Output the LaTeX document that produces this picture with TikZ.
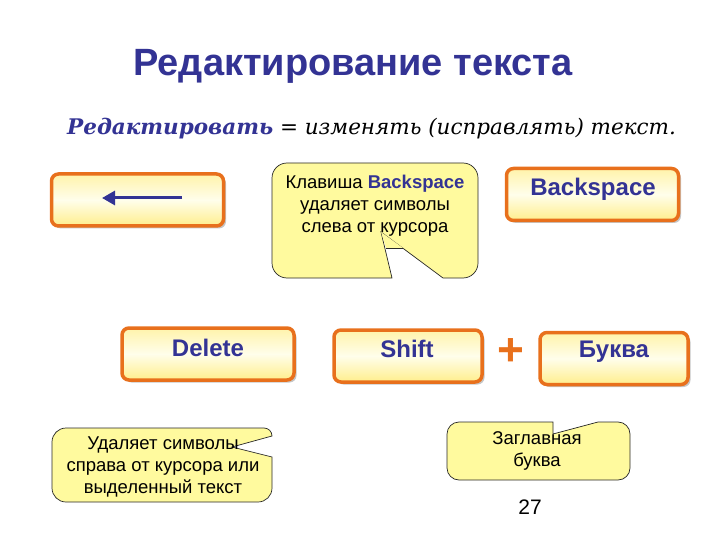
\documentclass[tikz,border=0pt]{standalone}
\usepackage{fontspec}
\setmainfont{Liberation Sans}
\newfontfamily\subfont{DejaVu Serif}
\usetikzlibrary{arrows.meta,shadows}
\definecolor{titleblue}{RGB}{51,51,148}
\definecolor{keyorange}{RGB}{232,112,28}
\definecolor{keytop}{RGB}{255,243,170}
\definecolor{keymid}{RGB}{255,254,235}
\definecolor{keybottom}{RGB}{255,238,140}
\definecolor{notefill}{RGB}{255,250,158}
\definecolor{noteline}{RGB}{40,40,40}

\begin{document}
\begin{tikzpicture}[
    x=1pt, y=-1pt,
    keybox/.style={
        rectangle,
        rounded corners=7pt,
        draw=keyorange,
        line width=3.5pt,
        top color=keytop,
        bottom color=keybottom,
        middle color=keymid,
        drop shadow={shadow xshift=2.5pt, shadow yshift=-2.5pt, opacity=0.45},
        minimum width=172pt,
        minimum height=52pt
    },
    keytext/.style={font=\fontsize{24}{28}\selectfont\bfseries, text=titleblue, inner sep=0pt},
    note/.style={fill=notefill, draw=noteline, line width=0.7pt},
    notetext/.style={font=\fontsize{18.5}{22}\selectfont, align=center, inner sep=0pt}
]
\useasboundingbox (0,0) rectangle (720,540);

% Title and definition
\node[font=\fontsize{38}{42}\selectfont\bfseries, text=titleblue] (title) at (353,66)
    {Редактирование текста};
\node[font=\subfont\fontsize{21.5}{24}\selectfont\itshape, anchor=base west, inner sep=0pt] (definition) at (67,135)
    {\textcolor{titleblue}{\bfseries Редактировать} = изменять (исправлять) текст.};

% Keys
\node[keybox] (arrowkey) at (137.5,200) {};
\node[keybox] (backkey) at (592.5,194.5) {};
\node[keybox] (delkey) at (208,354) {};
\node[keybox, minimum width=148pt] (shiftkey) at (408,356) {};
\node[keybox, minimum width=148pt] (letterkey) at (614,358.5) {};

\coordinate (arrowstart) at (182,198);
\coordinate (arrowtip) at (102,198);
\draw[titleblue, line width=3pt, -{Triangle[length=13pt, width=14pt]}] (arrowstart) -- (arrowtip);

\node[keytext] (backlabel) at (593,189) {Backspace};
\node[keytext] (dellabel) at (208,348) {Delete};
\node[keytext] (shiftlabel) at (407,349) {Shift};
\node[keytext] (letterlabel) at (614,352) {Буква};
\node[font=\fontsize{46}{46}\selectfont\bfseries, text=keyorange, inner sep=0pt] (plus) at (511,352) {+};

% Callout: Backspace
\path[note] (381,232) -- (392,278) [rounded corners=15pt] -- (272,278) -- (272,163)
    -- (478,163) -- (478,278) [sharp corners] -- (443,278) -- cycle;
\fill[notefill] (381,232) -- (386,248) -- (403,248) -- cycle;
\draw[noteline, line width=0.7pt] (386,248) -- (403,248);
\node[notetext] (backnote) at (375,206)
    {Клавиша \textbf{\textcolor{titleblue}{Backspace}}\\удаляет символы\\слева от курсора};

% Callout: Delete
\path[note] (232,447) -- (272,436) [rounded corners=8pt] -- (272,428) [rounded corners=14pt] -- (52,428)
    -- (52,502) -- (272,502) [sharp corners] -- (272,457) -- cycle;
\node[notetext] (delnote) at (163,467)
    {Удаляет символы\\справа от курсора или\\выделенный текст};

% Callout: Shift
\path[note] (553,434) -- (553,422) [rounded corners=12pt] -- (447,422) -- (447,480)
    -- (630,480) -- (630,422) [sharp corners] -- (598,422) -- cycle;
\node[notetext] (shiftnote) at (537,451) {Заглавная\\буква};

% Page number
\node[font=\fontsize{21}{24}\selectfont] (pagenum) at (530,507) {27};
\end{tikzpicture}
\end{document}
